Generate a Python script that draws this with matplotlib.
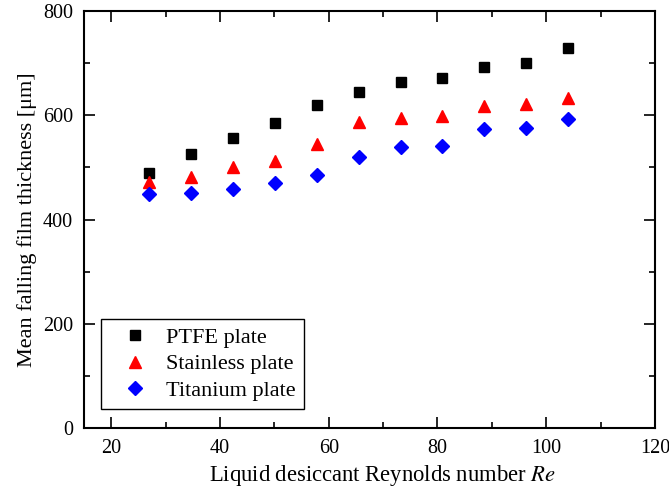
import matplotlib.pyplot as plt
from matplotlib.ticker import MultipleLocator

re_values = [27.0, 34.7, 42.4, 50.1, 57.8, 65.5, 73.2, 80.9, 88.6, 96.3, 104.0]
ptfe = [490, 525, 556, 585, 620, 645, 663, 672, 692, 700, 730]
stainless = [472, 481, 501, 513, 545, 587, 594, 598, 617, 622, 633]
titanium = [449, 451, 459, 471, 485, 519, 539, 542, 573, 576, 592]

plt.rcParams['font.family'] = ['Liberation Serif', 'DejaVu Serif']
plt.rcParams['mathtext.fontset'] = 'stix'

fig = plt.figure(figsize=(6.69, 4.9), dpi=100)
ax = fig.add_axes([0.1256, 0.1265, 0.8535, 0.851])

ax.plot(re_values, ptfe, 's', color='black', markersize=7, label='PTFE plate')
ax.plot(re_values, stainless, '^', color='red', markersize=8.5, label='Stainless plate')
ax.plot(re_values, titanium, 'D', color='blue', markersize=7, label='Titanium plate')

ax.set_xlim(15, 120)
ax.set_ylim(0, 800)
ax.xaxis.set_major_locator(MultipleLocator(20))
ax.xaxis.set_minor_locator(MultipleLocator(10))
ax.yaxis.set_major_locator(MultipleLocator(200))
ax.yaxis.set_minor_locator(MultipleLocator(100))
ax.tick_params(which='both', direction='in', top=True, right=True, width=1.2,
               labelsize=14.5, pad=8)
ax.tick_params(which='major', length=8)
ax.tick_params(which='minor', length=4)
for s in ax.spines.values():
    s.set_linewidth(1.5)

ax.set_xlabel('Liquid desiccant Reynolds number $\\it{Re}$', fontsize=16.3)
ax.xaxis.set_label_coords(0.522, -0.085)
ax.set_ylabel('Mean falling film thickness [μm]', fontsize=16, labelpad=4)

leg = ax.legend(loc='lower left', bbox_to_anchor=(0.03, 0.045), fontsize=16,
                fancybox=False, edgecolor='black', framealpha=1,
                handlelength=2.34, handletextpad=0.22, borderpad=0.36,
                labelspacing=0.28, borderaxespad=0)
leg.get_frame().set_linewidth(1.0)

plt.savefig('out.png', dpi=100)
